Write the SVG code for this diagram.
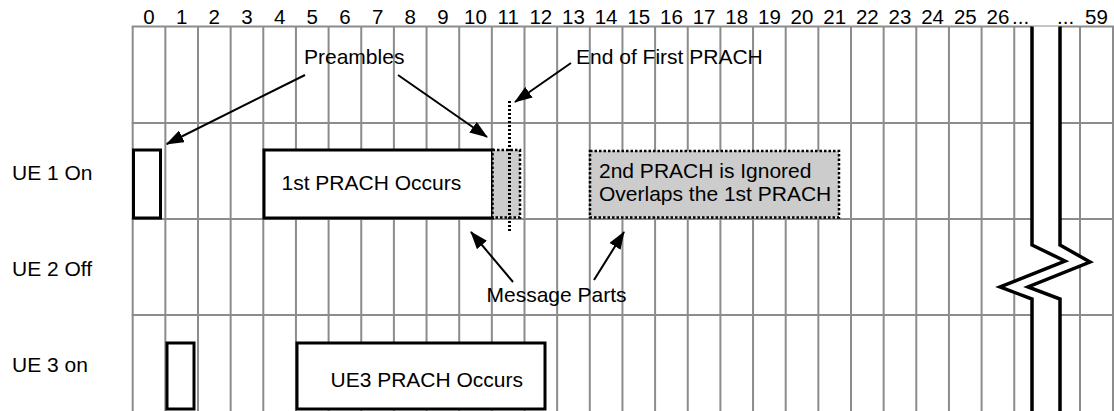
<svg xmlns="http://www.w3.org/2000/svg" width="1114" height="411" viewBox="0 0 1114 411">
<style>
text{font-family:"Liberation Sans",Arial,sans-serif;fill:#000}
.hd{font-size:20.5px;text-anchor:middle}
.t{font-size:21px}
.g{stroke:#8c8c8c;stroke-width:2;fill:none}
.box{fill:#fff;stroke:#000;stroke-width:3}
.dot{fill:#cccccc;stroke:#000;stroke-width:2.5;stroke-dasharray:2.5 2}
.arr{stroke:#000;stroke-width:2;fill:none;marker-end:url(#ah)}
.brk{stroke:#000;stroke-width:3.5;fill:none}
</style>
<defs>
<marker id="ah" viewBox="0 0 18 13" refX="17" refY="6.5" markerWidth="18" markerHeight="13" markerUnits="userSpaceOnUse" orient="auto">
<path d="M0,0 L18,6.5 L0,13 z" fill="#000"/>
</marker>
</defs>
<rect width="1114" height="411" fill="#fff"/>
<g id="grid">
<path class="g" d="M132.7,26.5V411 M165.35,26.5V411 M198,26.5V411 M230.65,26.5V411 M263.3,26.5V411 M295.95,26.5V411 M328.6,26.5V411 M361.25,26.5V411 M393.9,26.5V411 M426.55,26.5V411 M459.2,26.5V411 M491.85,26.5V411 M524.5,26.5V411 M557.15,26.5V411 M589.8,26.5V411 M622.45,26.5V411 M655.1,26.5V411 M687.75,26.5V411 M720.4,26.5V411 M753.05,26.5V411 M785.7,26.5V411 M818.35,26.5V411 M851,26.5V411 M883.65,26.5V411 M916.3,26.5V411 M948.95,26.5V411 M981.6,26.5V411 M1014.25,26.5V411 M1080,26.5V411 M1113,26.5V411"/>
<path class="g" d="M131.7,26.5H1114 M131.7,123H1114 M131.7,219H1114 M131.7,315H1114"/>
</g>
<g id="header">
<text class="hd" x="149" y="24">0</text>
<text class="hd" x="181.7" y="24">1</text>
<text class="hd" x="214.3" y="24">2</text>
<text class="hd" x="247" y="24">3</text>
<text class="hd" x="279.6" y="24">4</text>
<text class="hd" x="312.3" y="24">5</text>
<text class="hd" x="344.9" y="24">6</text>
<text class="hd" x="377.6" y="24">7</text>
<text class="hd" x="410.2" y="24">8</text>
<text class="hd" x="442.9" y="24">9</text>
<text class="hd" x="475.5" y="24">10</text>
<text class="hd" x="508.2" y="24">11</text>
<text class="hd" x="540.8" y="24">12</text>
<text class="hd" x="573.5" y="24">13</text>
<text class="hd" x="606.1" y="24">14</text>
<text class="hd" x="638.8" y="24">15</text>
<text class="hd" x="671.4" y="24">16</text>
<text class="hd" x="704.1" y="24">17</text>
<text class="hd" x="736.7" y="24">18</text>
<text class="hd" x="769.4" y="24">19</text>
<text class="hd" x="802" y="24">20</text>
<text class="hd" x="834.7" y="24">21</text>
<text class="hd" x="867.3" y="24">22</text>
<text class="hd" x="900" y="24">23</text>
<text class="hd" x="932.6" y="24">24</text>
<text class="hd" x="965.3" y="24">25</text>
<text class="hd" x="998" y="24">26</text>
<text x="1012" y="24" style="font-size:20.5px">...</text>
<text x="1057" y="24" style="font-size:20.5px">...</text>
<text class="hd" x="1096.5" y="24">59</text>
</g>
<g id="break">
<path d="M1032,26.5 V245 L1065,261 L1000,287 L1032,299 V411 H1060 V299 L1028,287 L1090,262 L1060,245 V26.5 Z" fill="#fff"/>
<path class="brk" d="M1032,26.5 V245 L1065,261 L1000,287 L1032,299 V411"/>
<path class="brk" d="M1060,26.5 V245 L1090,262 L1028,287 L1060,299 V411"/>
</g>
<g id="row-labels">
<text class="t" x="12" y="180">UE 1 On</text>
<text class="t" x="12" y="276">UE 2 Off</text>
<text class="t" x="12" y="372">UE 3 on</text>
</g>
<g id="ue1-preamble"><rect class="box" x="133.5" y="150" width="27" height="68"/></g>
<g id="ue1-prach"><rect class="box" x="264" y="150" width="228.5" height="68"/>
<text class="t" x="281.5" y="190">1st PRACH Occurs</text></g>
<g id="ue1-msg"><rect class="dot" x="492.5" y="150" width="27.5" height="67.5"/></g>
<g id="end-line"><path d="M509.5,101V232" stroke="#000" stroke-width="3" stroke-dasharray="2 2"/></g>
<g id="ue1-second"><rect class="dot" x="590" y="151" width="249" height="66.5"/>
<text class="t" x="599" y="177.5">2nd PRACH is Ignored</text>
<text class="t" x="599" y="201">Overlaps the 1st PRACH</text></g>
<g id="ue3-preamble"><rect class="box" x="167" y="343" width="27" height="66"/></g>
<g id="ue3-prach"><rect class="box" x="297" y="343" width="248" height="66"/>
<text class="t" x="330.5" y="387">UE3 PRACH Occurs</text></g>
<g id="labels">
<text class="t" x="304" y="64">Preambles</text>
<text class="t" x="576" y="64">End of First PRACH</text>
<text class="t" x="486.5" y="302">Message Parts</text>
</g>
<g id="connectors">
<path class="arr" d="M305,75 L166.7,144"/>
<path class="arr" d="M398,75 L487,137"/>
<path class="arr" d="M571,63 L515,102"/>
<path class="arr" d="M513,282 L471,232"/>
<path class="arr" d="M594,280 L624,232"/>
</g>
</svg>
